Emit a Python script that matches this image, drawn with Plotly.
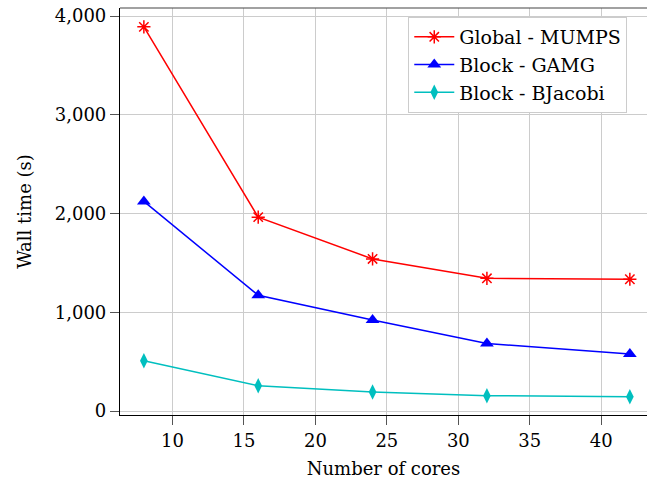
import plotly.graph_objects as go

cores = [8, 16, 24, 32, 42]
mumps = [3890, 1963, 1540, 1344, 1334]
gamg = [2122, 1172, 922, 684, 578]
bjacobi = [509, 256, 193, 155, 145]

FONT = "DejaVu Serif"

fig = go.Figure()
fig.add_trace(go.Scatter(x=cores, y=mumps, mode="lines+markers", name="Global - MUMPS",
                         line=dict(color="#ff0000", width=1.5),
                         marker=dict(symbol="asterisk-open", size=11, color="#ff0000",
                                     line=dict(color="#ff0000", width=1.5))))
fig.add_trace(go.Scatter(x=cores, y=gamg, mode="lines+markers", name="Block - GAMG",
                         line=dict(color="#0000ff", width=1.5),
                         marker=dict(symbol="triangle-up", size=12, color="#0000ff")))
fig.add_trace(go.Scatter(x=cores, y=bjacobi, mode="lines+markers", name="Block - BJacobi",
                         line=dict(color="#00bfbf", width=1.5),
                         marker=dict(symbol="diamond-tall", size=11, color="#00bfbf")))

fig.update_layout(
    width=647, height=485,
    margin=dict(l=119.5, r=0, t=8, b=70),
    plot_bgcolor="white", paper_bgcolor="white",
    font=dict(family=FONT, size=18, color="black"),
    showlegend=True,
    legend=dict(x=0.547, y=0.978, xanchor="left", yanchor="top",
                bordercolor="#cccccc", borderwidth=1, bgcolor="white",
                font=dict(family=FONT, size=19), tracegroupgap=0, itemwidth=40),
    xaxis=dict(range=[6.33, 43.2], tickvals=[10, 15, 20, 25, 30, 35, 40],
               showgrid=True, gridcolor="#cccccc", gridwidth=1,
               showline=True, linecolor="black", linewidth=1.2,
               ticks="outside", ticklen=9, tickcolor="#555555",
               zeroline=False, tickfont=dict(family=FONT, size=18),
               title=dict(text="Number of cores", standoff=12, font=dict(family=FONT, size=18))),
    yaxis=dict(range=[-40.5, 4081], tickvals=[0, 1000, 2000, 3000, 4000],
               tickformat=",", showgrid=True, gridcolor="#cccccc", gridwidth=1,
               showline=True, linecolor="black", linewidth=1.2,
               ticks="outside", ticklen=9, tickcolor="#555555",
               zeroline=False, tickfont=dict(family=FONT, size=18),
               title=dict(text="Wall time (s)", standoff=18, font=dict(family=FONT, size=18))),
)
fig.add_shape(type="line", xref="paper", yref="paper", x0=0, x1=1, y0=1, y1=1,
              line=dict(color="#444444", width=1.2))

fig.write_html("out.html")
